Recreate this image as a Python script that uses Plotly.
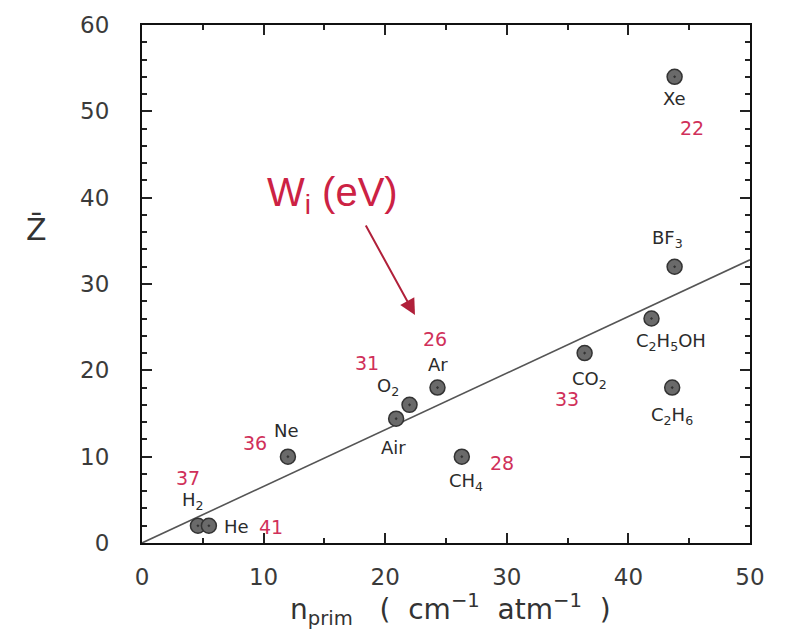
import plotly.graph_objects as go

# ---- data ----
gases = ["H<sub>2</sub>", "He", "Ne", "Air", "O<sub>2</sub>", "Ar", "CH<sub>4</sub>",
         "CO<sub>2</sub>", "C<sub>2</sub>H<sub>5</sub>OH", "C<sub>2</sub>H<sub>6</sub>",
         "BF<sub>3</sub>", "Xe"]
n_prim = [4.6, 5.5, 12.0, 20.9, 22.0, 24.3, 26.3, 36.4, 41.9, 43.6, 43.8, 43.8]
z_bar = [2, 2, 10, 14.4, 16, 18, 10, 22, 26, 18, 32, 54]
w_i = [37, 41, 36, None, 31, 26, 28, 33, None, None, None, 22]
fit_x = [0, 50]
fit_y = [0, 32.8]
x_ticks = [0, 10, 20, 30, 40, 50]
y_ticks = [0, 10, 20, 30, 40, 50, 60]

# ---- label offsets (pixels) ----
name_off = [(-5, 25), (28, -1), (-1, 26), (-3, -29), (-22, 18), (1, 23), (4, -25),
            (5, -27), (19, -23), (0, -28), (-7, 28), (0, -22)]
wi_off = [(-10, 48), (62, -1), (-33, 14), None, (-43, 42), (-2, 49), (40, -6),
          (-18, -46), None, None, None, (17, -51)]

TXT = "#2b2b2b"
RED = "#d0305a"
FONT = "DejaVu Sans, Verdana, sans-serif"

fig = go.Figure()
fig.add_trace(go.Scatter(x=fit_x, y=fit_y, mode="lines",
                         line=dict(color="#555555", width=1.6), hoverinfo="skip",
                         showlegend=False))
fig.add_trace(go.Scatter(x=n_prim, y=z_bar, mode="markers",
                         marker=dict(symbol="circle-dot", size=15, color="#6a6a6a",
                                     line=dict(color="#333333", width=1.5)),
                         showlegend=False))

ann = []
for g, x, y, off in zip(gases, n_prim, z_bar, name_off):
    ann.append(dict(x=x, y=y, text=g, showarrow=False, xshift=off[0], yshift=off[1],
                    xanchor="center", yanchor="middle",
                    font=dict(family=FONT, size=18, color=TXT)))
for w, x, y, off in zip(w_i, n_prim, z_bar, wi_off):
    if w is None:
        continue
    ann.append(dict(x=x, y=y, text=str(w), showarrow=False, xshift=off[0], yshift=off[1],
                    xanchor="center", yanchor="middle",
                    font=dict(family=FONT, size=19, color=RED)))

# W_i (eV) label and arrow
ann.append(dict(xref="paper", yref="paper", x=(332 - 142) / 608, y=(543 - 192) / 522,
                text="W<sub>i</sub> (eV)", showarrow=False, xanchor="center", yanchor="middle",
                font=dict(family="Liberation Sans, Arial, sans-serif", size=40, color="#cc2244")))
ann.append(dict(x=22.45, y=26.4, ax=-50, ay=-91, text="", showarrow=True,
                arrowhead=2, arrowsize=1.6, arrowwidth=2, arrowcolor="#b0203a"))

# Axis titles
ann.append(dict(xref="paper", yref="paper", x=(36 - 142) / 608, y=(543 - 227) / 522,
                text="Z\u0304", showarrow=False, xanchor="center", yanchor="middle",
                font=dict(family="DejaVu Sans", size=30, color="#333333")))
ann.append(dict(xref="paper", yref="paper", x=(450 - 142) / 608, y=(543 - 610) / 522,
                text="n<sub>prim</sub>   (  cm<sup>\u22121</sup>  atm<sup>\u22121</sup>  )",
                showarrow=False, xanchor="center", yanchor="middle",
                font=dict(family=FONT, size=28, color="#333333")))

axis_common = dict(showline=True, linecolor="#111111", linewidth=2, mirror="allticks",
                   ticks="inside", ticklen=10, tickwidth=1.5, tickcolor="#222222",
                   showgrid=False, zeroline=False,
                   tickfont=dict(family=FONT, size=23, color="#3a3a3a"))

fig.update_layout(
    width=786, height=641,
    margin=dict(l=142, r=36, t=21, b=98),
    plot_bgcolor="white", paper_bgcolor="white",
    xaxis=dict(range=[0, 50], tickvals=x_ticks, ticktext=[str(v) for v in x_ticks],
               ticklabelstandoff=12,
               minor=dict(ticks="inside", ticklen=5, dtick=5, tickcolor="#222222"),
               **axis_common),
    yaxis=dict(range=[0, 60], tickvals=y_ticks, ticktext=[str(v) for v in y_ticks],
               ticklabelstandoff=26,
               minor=dict(ticks="inside", ticklen=5, dtick=2, tickcolor="#222222"),
               **axis_common),
    annotations=ann,
    showlegend=False,
)

fig.write_html("out.html")
